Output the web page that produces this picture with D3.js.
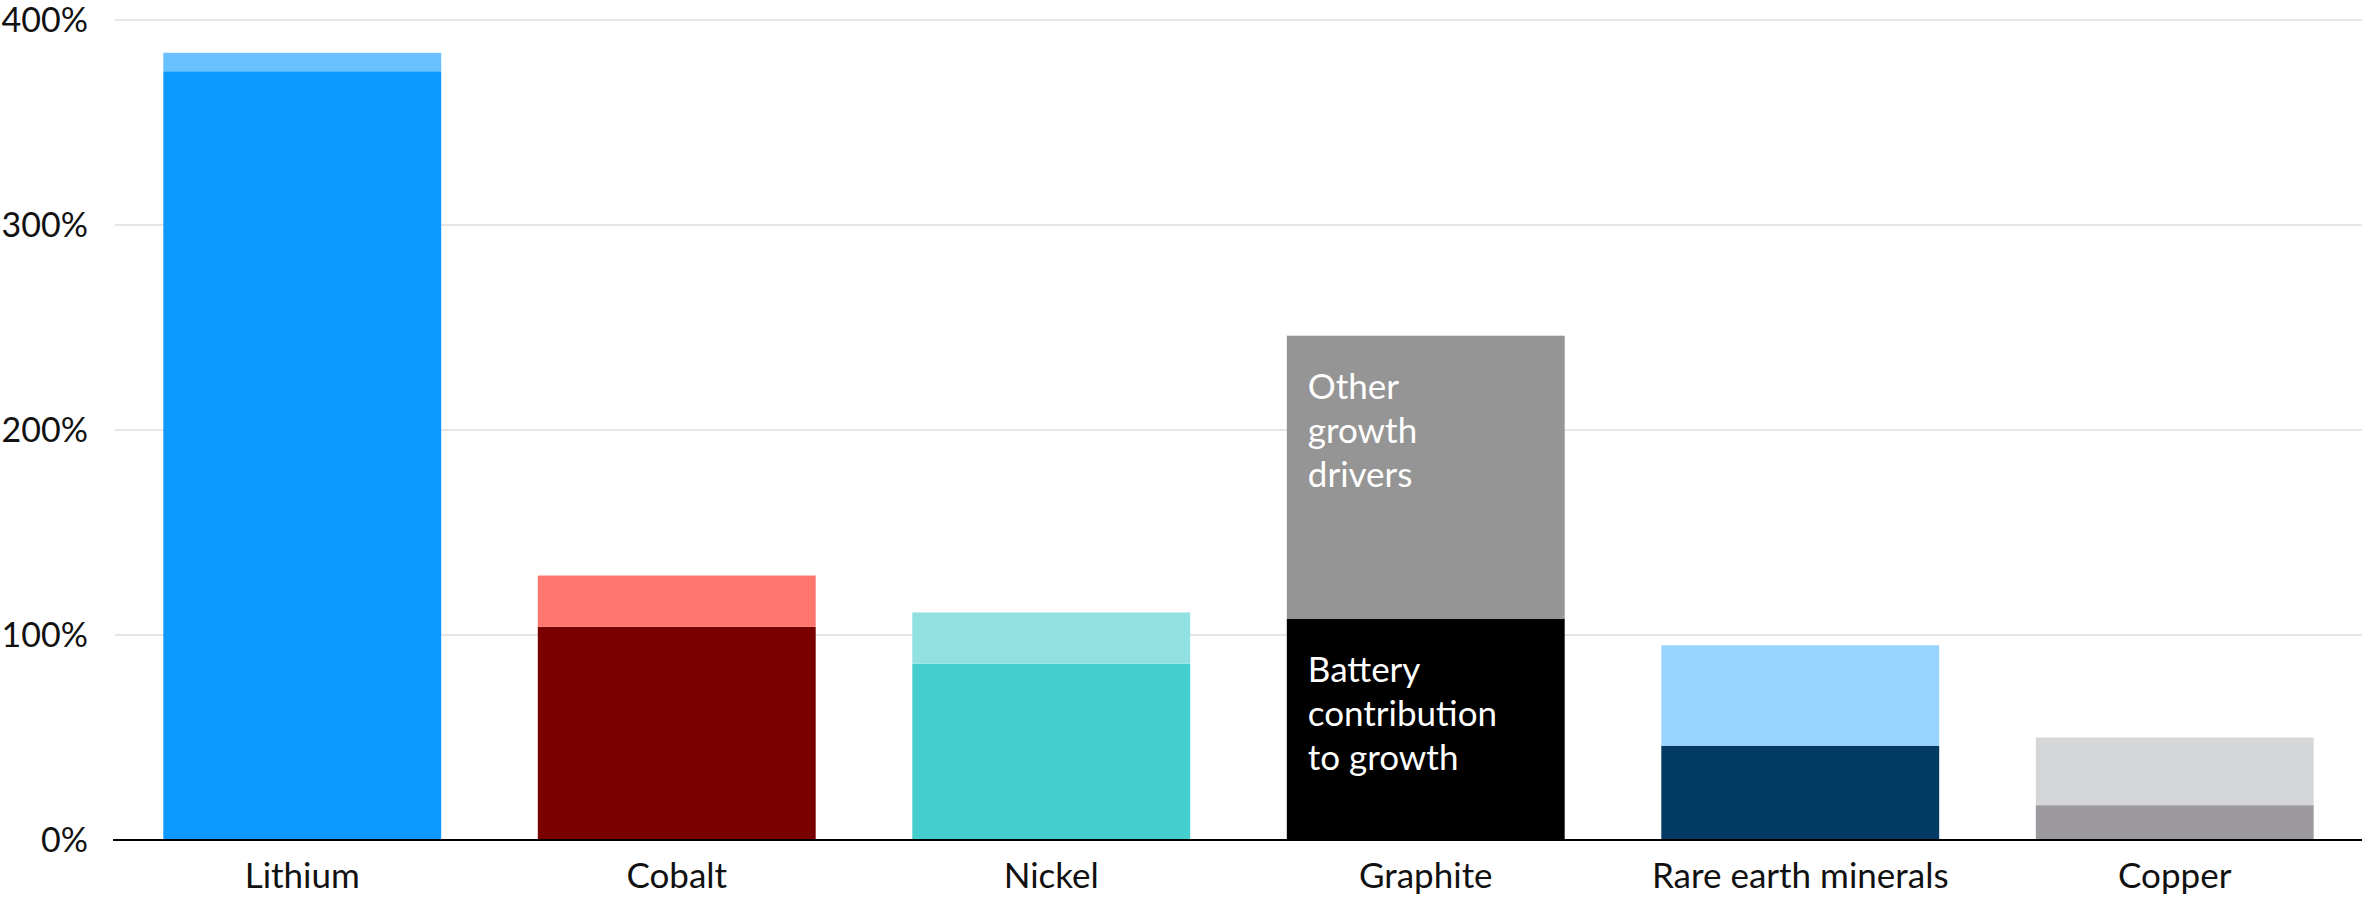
<!DOCTYPE html>
<html>
<head>
<meta charset="utf-8">
<script src="https://cdn.jsdelivr.net/npm/d3@7"></script>
<style>
  html, body { margin: 0; padding: 0; background: #fff; }
  svg { display: block; }
  text { font-family: "Lato", "Noto Sans", sans-serif; }
</style>
</head>
<body>
<svg id="chart" width="2362" height="899"></svg>
<script>
// Demand growth by mineral, split into battery and other drivers (%)
const categories = ["Lithium", "Cobalt", "Nickel", "Graphite", "Rare earth minerals", "Copper"];
const batteryGrowth = [375, 104, 86, 108, 46, 17];
const otherGrowth = [9, 25, 25, 138, 49, 33];
const yTicks = [0, 100, 200, 300, 400];
const seriesKeys = ["battery", "other"];
const seriesLabels = {
  battery: ["Battery", "contribution", "to growth"],
  other: ["Other", "growth", "drivers"]
};
const labelledCategory = "Graphite";
const darkColors = ["#0D99FF", "#7A0000", "#45CECE", "#000000", "#033A63", "#9C9A9E"];
const lightColors = ["#69C0FF", "#FF766F", "#92E1E2", "#959595", "#98D4FF", "#D5D6D8"];

const rows = categories.map((c, i) => ({ category: c, battery: batteryGrowth[i], other: otherGrowth[i] }));

const svg = d3.select("#chart");
const plotLeft = 115, plotRight = 2362, plotTop = 20, plotBottom = 840;

const x = d3.scaleBand()
  .domain(categories)
  .range([plotLeft, plotRight])
  .paddingInner(0.258)
  .paddingOuter(0.129);

const y = d3.scaleLinear().domain([0, 400]).range([plotBottom, plotTop]);

// Gridlines
svg.append("g")
  .selectAll("line")
  .data(yTicks.filter(t => t > 0))
  .join("line")
  .attr("x1", plotLeft).attr("x2", plotRight)
  .attr("y1", d => y(d)).attr("y2", d => y(d))
  .attr("stroke", "#E6E6E6").attr("stroke-width", 2);

// Y tick labels
const yAxis = d3.axisLeft(y).tickValues(yTicks).tickFormat(d => d + "%").tickSize(0).tickPadding(0);
const yg = svg.append("g").attr("transform", "translate(88,1)").call(yAxis);
yg.select(".domain").remove();
yg.selectAll("text")
  .attr("font-size", 34)
  .attr("fill", "#111")
  .attr("font-family", "Lato, 'Noto Sans', sans-serif");

// Stacked bars
const stacked = d3.stack().keys(seriesKeys)(rows);
const colorFor = (key, i) => key === "battery" ? darkColors[i] : lightColors[i];

stacked.forEach(layer => {
  svg.append("g")
    .selectAll("rect")
    .data(layer)
    .join("rect")
    .attr("x", d => x(d.data.category))
    .attr("width", x.bandwidth())
    .attr("y", d => y(d[1]))
    .attr("height", d => y(d[0]) - y(d[1]))
    .attr("fill", (d, i) => colorFor(layer.key, i));
});

// Segment labels on the graphite bar
const gi = categories.indexOf(labelledCategory);
stacked.forEach(layer => {
  const seg = layer[gi];
  const t = svg.append("text")
    .attr("x", x(labelledCategory) + 21)
    .attr("y", y(seg[1]) + 63)
    .attr("font-size", 35)
    .attr("fill", "#fff");
  seriesLabels[layer.key].forEach((line, k) => {
    t.append("tspan")
      .attr("x", x(labelledCategory) + 21)
      .attr("dy", k === 0 ? 0 : 44)
      .text(line);
  });
});

// X axis baseline and category labels
const xAxis = d3.axisBottom(x).tickSize(0).tickPadding(0);
const xg = svg.append("g").attr("transform", `translate(0,${plotBottom})`).call(xAxis);
xg.select(".domain").remove();
xg.selectAll("text")
  .attr("font-size", 35)
  .attr("fill", "#111")
  .attr("font-family", "Lato, 'Noto Sans', sans-serif")
  .attr("dy", 0)
  .attr("y", 48);

svg.append("line")
  .attr("x1", plotLeft - 2).attr("x2", plotRight)
  .attr("y1", plotBottom).attr("y2", plotBottom)
  .attr("stroke", "#000").attr("stroke-width", 2);
</script>
</body>
</html>
